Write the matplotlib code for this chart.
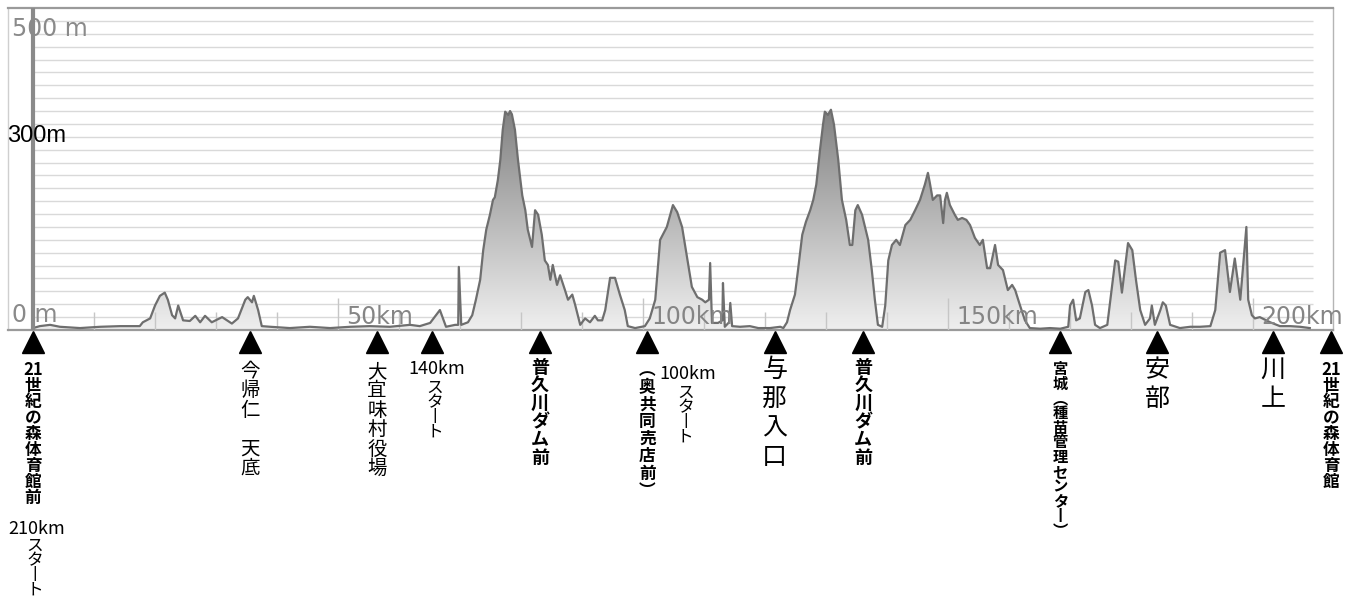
import numpy as np
import matplotlib
matplotlib.use("Agg")
import matplotlib.pyplot as plt
from matplotlib.colors import LinearSegmentedColormap
from matplotlib.patches import Polygon
from matplotlib.transforms import blended_transform_factory, ScaledTranslation

# course profile (distance km, elevation m)
dist_km = [0.0, 1.1, 2.8, 4.4, 7.7, 11.0, 14.3, 17.5, 18.0, 19.2, 20.0, 20.8, 21.6, 22.1,
           22.8, 23.3, 23.8, 24.6, 25.7, 26.6, 27.4, 28.2, 29.3, 31.0, 32.6, 33.6, 34.8,
           35.2, 35.9, 36.2, 36.9, 37.5, 38.9, 42.1, 45.4, 48.7, 52.0, 55.2, 58.5, 61.8,
           63.4, 65.1, 66.7, 67.7, 69.2, 69.7, 69.8, 70.2, 71.3, 72.0, 72.6, 73.3, 73.8,
           74.3, 74.9, 75.4, 75.7, 76.2, 76.6, 77.0, 77.4, 77.9, 78.2, 78.5, 79.0, 79.5,
           80.2, 80.7, 81.1, 81.8, 82.3, 82.8, 83.4, 83.9, 84.4, 84.8, 85.2, 85.9, 86.4,
           87.2, 87.7, 88.4, 88.9, 89.7, 90.5, 91.3, 92.1, 92.6, 93.3, 93.8, 94.6, 95.4,
           96.2, 97.0, 97.5, 98.7, 100.3, 101.1, 102.0, 102.8, 103.9, 104.9, 105.6, 106.4,
           107.2, 108.0, 108.9, 109.7, 110.2, 110.8, 111.0, 111.3, 112.3, 113.0, 113.1,
           113.4, 114.1, 114.3, 114.6, 115.9, 117.5, 118.9, 120.8, 122.5, 123.0, 123.6,
           124.1, 124.9, 125.4, 126.1, 126.7, 127.4, 127.9, 128.4, 129.0, 129.5, 129.8,
           130.3, 130.8, 131.3, 132.0, 132.6, 133.3, 133.9, 134.3, 134.8, 135.2, 135.9,
           136.9, 137.5, 138.0, 138.5, 139.2, 139.7, 140.2, 140.8, 141.5, 142.1, 143.0,
           143.8, 144.6, 145.4, 146.2, 146.7, 147.0, 147.5, 148.2, 148.7, 149.2, 149.5,
           149.8, 150.3, 151.1, 151.6, 152.3, 153.0, 153.6, 154.4, 155.2, 155.7, 156.4,
           156.9, 157.7, 158.2, 159.0, 159.8, 160.5, 161.0, 161.8, 162.6, 163.4, 165.1,
           166.7, 168.4, 169.7, 170.0, 170.5, 171.0, 171.6, 172.5, 173.0, 173.6, 174.1,
           174.9, 176.1, 176.6, 177.4, 177.9, 178.5, 179.5, 180.2, 180.8, 181.5, 182.3,
           183.1, 183.4, 183.9, 184.8, 185.2, 185.7, 186.4, 188.0, 189.7, 191.3, 193.0,
           193.8, 194.6, 195.4, 196.2, 197.0, 197.9, 198.9, 199.2, 199.8, 200.3, 201.1,
           202.8, 204.4, 206.1, 207.7, 209.3]
elev_m = [3, 6, 8, 5, 3, 5, 6, 6, 12, 18, 38, 53, 58, 47,
          23, 18, 38, 15, 14, 22, 12, 22, 12, 20, 10, 18, 47,
          51, 43, 53, 31, 6, 5, 3, 5, 3, 5, 6, 5, 8,
          6, 11, 31, 5, 8, 8, 98, 8, 12, 23, 47, 78, 124,
          156, 179, 202, 206, 233, 264, 311, 339, 334, 340, 335, 311, 264,
          209, 186, 156, 129, 186, 179, 148, 108, 101, 78, 101, 70, 85,
          62, 47, 55, 38, 8, 18, 12, 22, 15, 15, 31, 81, 81,
          55, 31, 6, 3, 6, 18, 47, 140, 160, 194, 183, 160,
          113, 67, 51, 47, 43, 47, 104, 11, 11, 15, 73,
          5, 12, 42, 6, 5, 6, 3, 3, 5, 3, 12,
          31, 55, 93, 148, 168, 186, 202, 226, 279, 319, 339,
          334, 342, 319, 264, 202, 171, 132, 132, 186, 194, 179,
          140, 93, 47, 8, 5, 38, 108, 132, 140, 132, 163,
          171, 186, 202, 226, 244, 229, 202, 209, 209, 166, 202,
          213, 194, 179, 171, 174, 171, 163, 143, 132, 140, 96,
          96, 132, 101, 93, 62, 70, 62, 38, 15, 3, 2,
          3, 2, 5, 38, 47, 15, 18, 59, 62, 38, 8,
          3, 8, 47, 108, 106, 58, 135, 124, 78, 31, 8,
          18, 38, 8, 31, 43, 38, 8, 3, 5, 5, 6,
          31, 120, 124, 59, 111, 47, 160, 47, 23, 18, 20,
          12, 6, 6, 5, 3]

# points along the course
marker_km = [0.0, 35.6, 56.4, 65.4, 83.1, 100.7, 121.6, 136.1, 168.4, 184.3, 203.3, 212.8]
marker_names = ["21世紀の森体育館前", "今帰仁 天底", "大宜味村役場", "", "普久川ダム前",
                "（奥共同売店前）", "与那入口", "普久川ダム前", "宮城（種苗管理センター）",
                "安部", "川上", "21世紀の森体育館"]
marker_style = ["xs", "m", "m", "s", "s", "p", "l", "s", "q", "l", "l", "xs"]

# start points of the shorter courses
start_km = [0.0, 65.4, 100.7]
start_labels = ["210km", "140km", "100km"]

x_ticks_km = [50, 100, 150, 200]
minor_km = list(range(10, 210, 10))
grid_m = list(range(20, 500, 20))

W, H = 1365, 597
JP = ["Noto Sans CJK JP", "DejaVu Sans"]


def px(x, y):
    return x / W, 1 - y / H


VERT = {"ー": "丨", "（": "︵", "）": "︶", " ": ""}


def vertical(s):
    out = []
    i = 0
    while i < len(s):
        if s[i].isdigit():
            j = i
            while j < len(s) and s[j].isdigit():
                j += 1
            out.append(s[i:j])
            i = j
        else:
            out.append(VERT.get(s[i], s[i]))
            i += 1
    return "\n".join(out)


fig = plt.figure(figsize=(W / 100, H / 100), dpi=100)
fig.patch.set_facecolor("white")
ax = fig.add_axes([8 / W, 1 - 330 / H, 1325 / W, 322 / H])

# gradient filled profile
cmap = LinearSegmentedColormap.from_list("g", ["#efefef", "#7c7c7c"])
grad = np.linspace(0, 1, 256).reshape(-1, 1)
im = ax.imshow(grad, extent=[0, 210, 0, 360], origin="lower", cmap=cmap,
               aspect="auto", zorder=2)
clip = Polygon(np.column_stack([np.r_[dist_km[0], dist_km, dist_km[-1]],
                                np.r_[0, elev_m, 0]]),
               closed=True, facecolor="none", edgecolor="none",
               transform=ax.transData)
ax.add_patch(clip)
im.set_clip_path(clip)
ax.plot(dist_km, elev_m, color="#6e6e6e", lw=1.6, zorder=4)

ax.hlines(grid_m, 0, 209.8, color="#d9d9d9", lw=1, zorder=1)
ax.vlines(minor_km, 0, [50 if k % 50 == 0 else 28 for k in minor_km],
          color="#c6c6c6", lw=1, zorder=3)
ax.axvline(0, color="#8a8a8a", lw=3, zorder=5)

ax.set_xlim(-4.1, 213.1)
ax.set_ylim(0, 500)
ax.set_xticks([])
ax.set_yticks([])
for side, col, lw in [("top", "#9a9a9a", 1.6), ("bottom", "#9a9a9a", 1.6),
                      ("left", "#cfcfcf", 1.0), ("right", "#b5b5b5", 1.0)]:
    ax.spines[side].set_color(col)
    ax.spines[side].set_linewidth(lw)

for k in x_ticks_km:
    ax.annotate(f"{k}km", xy=(k, 0), xytext=(8, 13), textcoords="offset pixels",
                ha="left", va="center", color="#858585", fontsize=17, zorder=6)
fig.text(*px(12, 29), "500 m", ha="left", va="center", color="#8a8a8a", fontsize=17)
fig.text(*px(12, 315), "0 m", ha="left", va="center", color="#8a8a8a", fontsize=17)
fig.text(*px(7, 136), "300m", ha="left", va="center", color="black", fontsize=17,
         family="Liberation Sans")

# triangles under the axis
base = blended_transform_factory(ax.transData, ax.transAxes)
tri = base + ScaledTranslation(0, -12 / 100, fig.dpi_scale_trans)
ax.plot(marker_km, [0] * len(marker_km), "^", color="black", ms=16,
        transform=tri, clip_on=False)

# fontsize, weight, linespacing, offset below axis (px)
styles = {"xs": (12, "bold", 0.86, 31), "q": (11, "bold", 0.9, 31),
          "s": (13, "bold", 0.94, 28), "p": (12, "bold", 0.95, 31),
          "m": (14, "normal", 0.9, 31), "l": (18, "normal", 1.15, 27)}
for km, name, st in zip(marker_km, marker_names, marker_style):
    if not name:
        continue
    fs, fw, ls, off = styles[st]
    ax.annotate(vertical(name), xy=(km, 0), xycoords=base, xytext=(0, -off),
                textcoords="offset pixels", ha="center", va="top",
                multialignment="center", fontsize=fs, fontweight=fw,
                linespacing=ls, family=JP, annotation_clip=False)

# (dx, km text top, katakana top) in px
start_pos = [(2, 190, 208), (3, 30, 50), (38, 35, 55)]
for km, lab, (dx, top1, top2) in zip(start_km, start_labels, start_pos):
    ax.annotate(lab, xy=(km, 0), xycoords=base, xytext=(dx + 2, -top1),
                textcoords="offset pixels", ha="center", va="top", fontsize=13,
                family=JP, annotation_clip=False)
    ax.annotate(vertical("スタート"), xy=(km, 0), xycoords=base,
                xytext=(dx, -top2), textcoords="offset pixels", ha="center",
                va="top", multialignment="center", fontsize=12,
                linespacing=0.8, family=JP, annotation_clip=False)

fig.savefig("out.png", dpi=100)
